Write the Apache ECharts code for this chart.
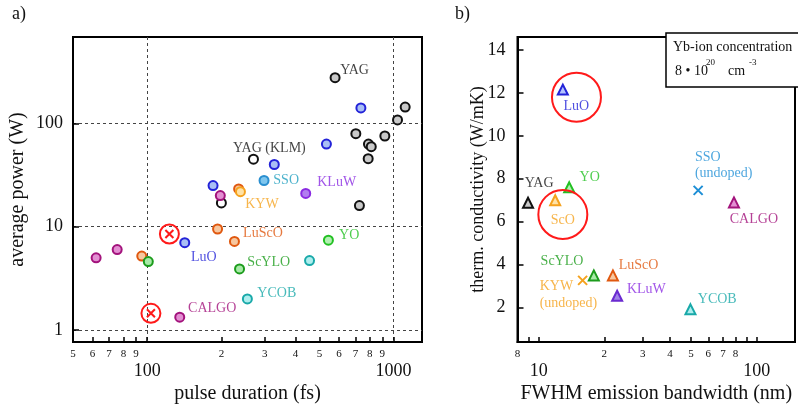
<!DOCTYPE html>
<html><head><meta charset="utf-8">
<script src="https://cdn.jsdelivr.net/npm/echarts@6/dist/echarts.min.js"></script>
<style>html,body{margin:0;padding:0;background:#fff}#c{width:798px;height:405px}</style>
</head><body><div id="c"></div>
<script>
// ---------- panel a) : [pulse duration fs, average power W] ----------
const yagA      = [[579,277],[1115,144],[1038,108],[703,79.5],[922,75.5],[791,63],[812,59.5],[789,45.5],[727,16]];
const yagOpenA  = [[270,45],[200,17]];
const luoA      = [[737,141],[534,63],[328,40],[185,25],[142,7]];
const ssoA      = [[298,28]];
const luscoA    = [[235,23.2],[193,9.5],[226,7.2],[95,5.2]];
const kywA      = [[239,21.8]];
const kluwA     = [[440,21]];
const calgoA    = [[198,20],[62,5],[75.5,6],[135.5,1.33]];
const yoA       = [[544,7.4]];
const scyloA    = [[101,4.6],[237,3.9]];
const ycobA     = [[255,2.0],[456,4.7]];
const markedA   = [[123,8.5],[103.5,1.45]];
const labelsA   = [['YAG',607,330],['YAG (KLM)',223,57],['SSO',325,27.8],['KLuW',490,26.6],['KYW',250,16.3],
                   ['LuScO',245,8.7],['YO',601,8.3],['ScYLO',255,4.56],['YCOB',280,2.28],['LuO',150.6,5.0],['CALGO',146.5,1.63]];
// ---------- panel b) : [FWHM emission bandwidth nm, thermal conductivity W/mK] ----------
const yagB   = [[8.93,6.88]];
const luoB   = [[12.9,12.15]];
const yoB    = [[13.8,7.6]];
const scoB   = [[11.9,7.0]];
const scyloB = [[17.9,3.5]];
const luscoB = [[21.9,3.5]];
const kluwB  = [[22.9,2.55]];
const calgoB = [[78.7,6.9]];
const ycobB  = [[49.7,1.92]];
const kywB   = [[15.9,3.27]];
const ssoB   = [[53.9,7.46]];
const circledB = [[14.9,11.8],[12.9,6.34]];
const labelsB  = [['YAG',8.63,7.78],['YO',15.4,8.06],['LuO',13.0,11.36],['ScO',11.35,6.06],['ScYLO',10.2,4.15],
                  ['KYW',10.1,2.99],['(undoped)',10.1,2.2,'KYW'],['LuScO',23.3,3.97],['KLuW',25.4,2.85],
                  ['SSO',52.1,9.0,'SSOb'],['(undoped)',52.1,8.25,'SSOb'],['CALGO',75.3,6.11],['YCOB',53.7,2.39]];
// ---------- ticks ----------
const aMajorX = [100,1000];
const aMinorTickX = [60,70,80,90,200,300,400,500,600,700,800,900];
const aMinorLabelX = [50,60,70,80,90,200,300,400,500,600,700,800,900];
const aTicksY = [1,10,100];
const bMajorX = [10,100];
const bMinorTickX = [9,20,30,40,50,60,70,80,90];
const bMinorLabelX = [8,20,30,40,50,60,70,80];
const bTicksY = [2,4,6,8,10,12,14];

const FONT = '"Liberation Serif", "Times New Roman", serif';
const col = {
  YAG:'#111111', 'YAG (KLM)':'#111111', LuO:'#2323d8', SSO:'#1f9fbf', SSOb:'#1e8fd6', LuScO:'#e0580f', KYW:'#f5a21e',
  KLuW:'#8a2be2', CALGO:'#a3137c', YO:'#22c022', ScYLO:'#1c9c1c', YCOB:'#19a9a9', ScO:'#f5a21e'
};

function scat(data, xi, yi, symbol, size, stroke, fill, bw, z){
  return {type:'scatter', xAxisIndex:xi, yAxisIndex:yi, data:data, symbol:symbol, symbolSize:size, silent:true,
    z:z||3, itemStyle:{color:fill, borderColor:stroke, borderWidth:bw||2, opacity:1}};
}
function labels(list, xi, yi){
  return {type:'scatter', xAxisIndex:xi, yAxisIndex:yi, symbolSize:0, silent:true, z:10,
    data:list.map(l=>({name:l[0], value:[l[1],l[2]], label:{color:col[l[3]||l[0]]}})),
    label:{show:true, position:'right', distance:0, formatter:p=>p.name, fontFamily:FONT, fontSize:14}};
}
const X_PATH = 'path://M0,0L10,10M10,0L0,10';

function xAxisDef(grid, min, max, tickVals, labelVals, fontSize, margin, showLine, split, extra){
  return Object.assign({type:'log', logBase:10, gridIndex:grid, min:min, max:max, position:'bottom',
    axisLine:{show:showLine, onZero:false, lineStyle:{color:'#000', width:2}},
    axisTick:{show:true, inside:true, length:5, customValues:tickVals, lineStyle:{color:'#000', width:1.5}},
    axisLabel:{show:true, customValues:labelVals, fontFamily:FONT, fontSize:fontSize, color:'#111', margin:margin,
      formatter:v=>{ if (fontSize>14) return String(Math.round(v)); return String(Math.round(v)).charAt(0); }},
    splitLine:{show:split, lineStyle:{color:'#444', type:[3,3], width:1}},
    minorTick:{show:false}, minorSplitLine:{show:false}}, extra||{});
}

const option = {
  animation:false,
  backgroundColor:'#fff',
  grid:[
    {left:73, top:37, width:349, height:305, show:true, borderColor:'#000', borderWidth:2, backgroundColor:'transparent', containLabel:false, outerBoundsMode:'none'},
    {left:517.5, top:37, width:277.5, height:305, show:true, borderColor:'#000', borderWidth:2, backgroundColor:'transparent', containLabel:false, outerBoundsMode:'none'}
  ],
  xAxis:[
    xAxisDef(0, 49.95, 1305, aMajorX, aMajorX, 18, 20, true, true,
      {name:'pulse duration (fs)', nameLocation:'middle', nameGap:42, nameMoveOverlap:false,
       nameTextStyle:{fontFamily:FONT, fontSize:20, color:'#111'}}),
    xAxisDef(0, 49.95, 1305, aMinorTickX, aMinorLabelX, 11, 7, false, false),
    xAxisDef(1, 7.99, 150, bMajorX, bMajorX, 18, 20, true, false,
      {name:'FWHM emission bandwidth (nm)', nameLocation:'middle', nameGap:42, nameMoveOverlap:false,
       nameTextStyle:{fontFamily:FONT, fontSize:20, color:'#111'}}),
    xAxisDef(1, 7.99, 150, bMinorTickX, bMinorLabelX, 11, 7, false, false)
  ],
  yAxis:[
    {type:'log', logBase:10, gridIndex:0, min:0.765, max:686,
     name:'average power (W)', nameLocation:'middle', nameGap:45, nameMoveOverlap:false,
     nameTextStyle:{fontFamily:FONT, fontSize:20, color:'#111'},
     axisLine:{show:true, onZero:false, lineStyle:{color:'#000', width:2}},
     axisTick:{show:true, inside:true, length:6, customValues:aTicksY, lineStyle:{color:'#000', width:1.5}},
     axisLabel:{customValues:aTicksY, fontFamily:FONT, fontSize:18, color:'#111', margin:10, formatter:v=>String(Math.round(v))},
     splitLine:{show:true, lineStyle:{color:'#444', type:[3,3], width:1}}, minorTick:{show:false}},
    {type:'value', gridIndex:1, min:0.4, max:14.6,
     name:'therm. conductivity (W/mK)', nameLocation:'middle', nameGap:30, nameMoveOverlap:false,
     nameTextStyle:{fontFamily:FONT, fontSize:18, color:'#111'},
     axisLine:{show:true, onZero:false, lineStyle:{color:'#000', width:2}},
     axisTick:{show:true, inside:true, length:6, customValues:bTicksY, lineStyle:{color:'#000', width:1.5}},
     axisLabel:{customValues:bTicksY, fontFamily:FONT, fontSize:18, color:'#111', margin:12},
     splitLine:{show:false}}
  ],
  series:[
    scat(yagA,0,0,'circle',9,'#111','#c9c9c9'),
    scat(yagOpenA,0,0,'circle',9,'#111','#ffffff'),
    scat(luoA,0,0,'circle',9,col.LuO,'#a9bff5'),
    scat(ssoA,0,0,'circle',9,'#2a8fd0','#7fc6ee'),
    scat(luscoA,0,0,'circle',9,col.LuScO,'#f7c79f'),
    scat(kywA,0,0,'circle',9,col.KYW,'#ffe2a6'),
    scat(kluwA,0,0,'circle',9,col.KLuW,'#b27ef0'),
    scat(calgoA,0,0,'circle',9,'#a3137c','#e38ed2'),
    scat(yoA,0,0,'circle',9,col.YO,'#b3f0b3'),
    scat(scyloA,0,0,'circle',9,col.ScYLO,'#a8eaa8'),
    scat(ycobA,0,0,'circle',9,col.YCOB,'#aeeeee'),
    scat(markedA,0,0,'circle',19,'#ff1a1a','rgba(0,0,0,0)',2,5),
    scat(markedA,0,0,X_PATH,8,'#ff1a1a','rgba(0,0,0,0)',2,5),
    labels(labelsA,0,0),

    scat(yagB,2,1,'triangle',10,'#111','#c9c9c9'),
    scat(luoB,2,1,'triangle',10,col.LuO,'#b3c3ff'),
    scat(yoB,2,1,'triangle',10,col.YO,'#b3f0b3'),
    scat(scoB,2,1,'triangle',10,col.ScO,'#ffe2a6'),
    scat(scyloB,2,1,'triangle',10,col.ScYLO,'#a8eaa8'),
    scat(luscoB,2,1,'triangle',10,col.LuScO,'#f7c79f'),
    scat(kluwB,2,1,'triangle',10,'#6a2ad0','#a184e8'),
    scat(calgoB,2,1,'triangle',10,col.CALGO,'#e38ed2'),
    scat(ycobB,2,1,'triangle',10,col.YCOB,'#aeeeee'),
    scat(kywB,2,1,X_PATH,9,col.KYW,'rgba(0,0,0,0)'),
    scat(ssoB,2,1,X_PATH,9,col.SSOb,'rgba(0,0,0,0)'),
    scat(circledB,2,1,'circle',49,'#ff1a1a','rgba(0,0,0,0)',2,5),
    labels(labelsB,2,1)
  ],
  graphic:[
    {type:'text', left:12, top:5, style:{text:'a)', fontFamily:FONT, fontSize:18, fill:'#111'}},
    {type:'text', left:455, top:5, style:{text:'b)', fontFamily:FONT, fontSize:18, fill:'#111'}},
    {type:'rect', shape:{x:666, y:33, width:140, height:54}, style:{fill:'#fff', stroke:'#000', lineWidth:1.5}, z:100},
    {type:'text', x:673, y:47, z:101, style:{text:'Yb-ion concentration', fontFamily:FONT, fontSize:14, fill:'#111', verticalAlign:'middle'}},
    {type:'text', x:675, y:71, z:101, style:{text:'8 • 10', fontFamily:FONT, fontSize:14, fill:'#111', verticalAlign:'middle'}},
    {type:'text', x:706, y:63, z:101, style:{text:'20', fontFamily:FONT, fontSize:9, fill:'#111', verticalAlign:'middle'}},
    {type:'text', x:728, y:71, z:101, style:{text:'cm', fontFamily:FONT, fontSize:14, fill:'#111', verticalAlign:'middle'}},
    {type:'text', x:749, y:63, z:101, style:{text:'-3', fontFamily:FONT, fontSize:9, fill:'#111', verticalAlign:'middle'}}
  ]
};
const chart = echarts.init(document.getElementById('c'), null, {renderer:'canvas'});
chart.setOption(option);
</script></body></html>
